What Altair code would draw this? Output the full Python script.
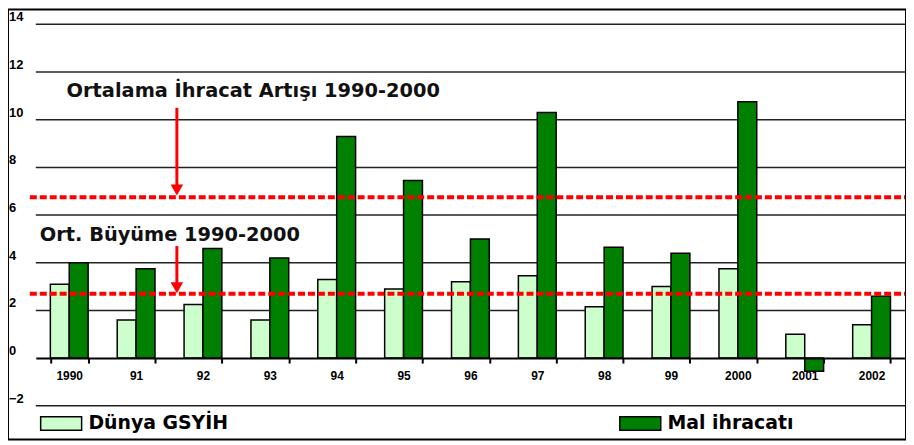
import altair as alt
import pandas as pd

categories = ["1990", "91", "92", "93", "94", "95", "96", "97", "98", "99", "2000", "2001", "2002"]
series_names = ["Dünya GSYİH", "Mal ihracatı"]
world_gdp = [3.1, 1.6, 2.25, 1.6, 3.3, 2.9, 3.2, 3.45, 2.15, 3.0, 3.75, 1.0, 1.4]
goods_exports = [4.0, 3.75, 4.6, 4.2, 9.3, 7.45, 5.0, 10.3, 4.65, 4.4, 10.75, -0.55, 2.6]
colors = ["#ccffcc", "#008000"]

y_ticks = [-2, 0, 2, 4, 6, 8, 10, 12, 14]
avg_lines = [6.75, 2.7]
annot_texts = ["Ortalama İhracat Artışı 1990-2000", "Ort. Büyüme 1990-2000"]
annot_y = [11.2, 5.15]
annot_x = [59, 32]
arrow_top = [10.5, 4.7]
arrow_bottom = [7.2, 3.05]
arrow_head = [7.05, 2.95]

W, H = 904, 433
Y_RANGE = [399, 15]
X_RANGE = [28, 903]

rows = []
for c, g, e in zip(categories, world_gdp, goods_exports):
    rows.append({"year": c, "series": series_names[0], "value": g})
    rows.append({"year": c, "series": series_names[1], "value": e})
bars_df = pd.DataFrame(rows)

yscale = alt.Scale(domain=[-2, 14], range=Y_RANGE, nice=False, zero=False)

grid = alt.Chart(pd.DataFrame({"v": [t for t in y_ticks if t != 0]})).mark_rule(
    color="#222222", strokeWidth=1.5
).encode(
    y=alt.Y("v:Q", scale=yscale, axis=None),
    x=alt.value(X_RANGE[0]),
    x2=alt.value(X_RANGE[1]),
)

ylabels = alt.Chart(pd.DataFrame({"v": y_ticks})).mark_text(
    align="left", baseline="middle", dy=-7, font="Liberation Sans", fontSize=13,
    fontWeight="bold", color="black"
).encode(
    y=alt.Y("v:Q", scale=yscale, axis=None),
    x=alt.value(1),
    text=alt.Text("v:Q"),
)

bars = alt.Chart(bars_df).mark_bar(stroke="black", strokeWidth=1.5, strokeOpacity=1, opacity=1).encode(
    x=alt.X(
        "year:N",
        sort=categories,
        scale=alt.Scale(range=X_RANGE, paddingInner=0.435, paddingOuter=0.2175),
        axis=alt.Axis(
            title=None, orient="bottom", offset=-82, domain=True, domainColor="black",
            domainWidth=2, ticks=True, tickBand="extent", tickSize=5, tickWidth=2,
            tickColor="black", labelFont="Liberation Sans", labelFontSize=12,
            labelFontWeight="bold", labelColor="black", labelPadding=8, grid=False,
            labelAngle=0, zindex=1,
        ),
    ),
    xOffset=alt.XOffset("series:N", sort=series_names, scale=alt.Scale(paddingInner=0, paddingOuter=0)),
    y=alt.Y("value:Q", scale=yscale, axis=None),
    color=alt.Color(
        "series:N",
        sort=series_names,
        scale=alt.Scale(domain=series_names, range=colors),
        legend=alt.Legend(
            title=None, orient="none", legendX=32, legendY=395, direction="horizontal",
            symbolType="M-1,-0.33L1,-0.33L1,0.33L-1,0.33Z", symbolSize=1700,
            symbolStrokeColor="black", symbolStrokeWidth=1.5, symbolOpacity=1,
            labelFont="DejaVu Sans", labelFontWeight="bold", labelFontSize=19,
            labelColor="black", labelOffset=6, columnPadding=390, padding=0,
            labelLimit=300,
        ),
    ),
)

dashes = alt.Chart(pd.DataFrame({"v": avg_lines})).mark_rule(
    color="#ff0000", strokeWidth=4, strokeDash=[7, 3]
).encode(
    y=alt.Y("v:Q", scale=yscale, axis=None),
    x=alt.value(22),
    x2=alt.value(X_RANGE[1]),
)

arrow_df = pd.DataFrame({"top": arrow_top, "bottom": arrow_bottom, "head": arrow_head})
arrow_lines = alt.Chart(arrow_df).mark_rule(color="#ff0000", strokeWidth=3).encode(
    y=alt.Y("top:Q", scale=yscale, axis=None),
    y2="bottom:Q",
    x=alt.value(170),
)
arrow_heads = alt.Chart(arrow_df).mark_point(
    shape="triangle-down", filled=True, color="#ff0000", size=160, opacity=1
).encode(
    y=alt.Y("head:Q", scale=yscale, axis=None),
    x=alt.value(170),
)

annots = alt.Chart(pd.DataFrame({"t": annot_texts, "y": annot_y, "x": annot_x})).mark_text(
    align="left", baseline="middle", font="DejaVu Sans", fontSize=19.5, fontWeight="bold",
    color="#111111"
).encode(
    y=alt.Y("y:Q", scale=yscale, axis=None),
    x=alt.X("x:Q", scale=alt.Scale(domain=[0, W], range=[0, W]), axis=None),
    text="t:N",
)

chart = alt.layer(grid, ylabels, bars, dashes, arrow_lines, arrow_heads, annots).resolve_scale(
    x="independent"
).properties(
    width=W, height=H, padding=0, autosize=alt.AutoSizeParams(type="none"),
).configure_view(
    stroke="black", strokeWidth=2
)

chart.save("out.html", embed_options={"renderer": "svg", "actions": False})
